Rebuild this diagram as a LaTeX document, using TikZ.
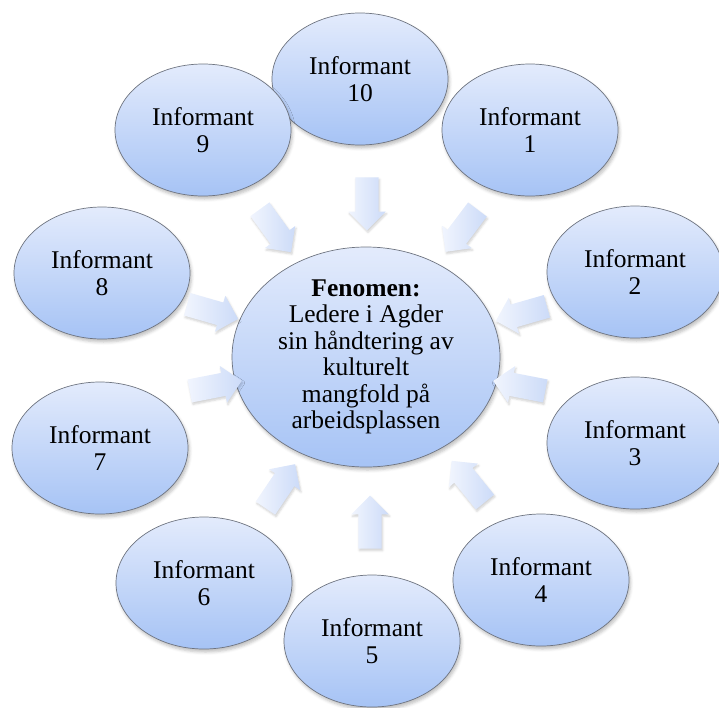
\documentclass[tikz,border=0pt]{standalone}
\usepackage{fontspec}
\setmainfont{Liberation Serif}
\usetikzlibrary{shapes.geometric,shapes.arrows,shadows.blur}

\definecolor{ovaltop}{HTML}{E3EBFC}
\definecolor{ovalbottom}{HTML}{A6C3F5}
\definecolor{ovalline}{HTML}{6E7480}
\definecolor{arrowtail}{HTML}{F1F5FE}
\definecolor{arrowtip}{HTML}{CCDBF8}

\tikzset{
  oval/.style={ellipse, draw=ovalline, line width=0.7pt,
    top color=ovaltop, bottom color=ovalbottom,
    inner sep=0pt, align=center,
    font=\fontsize{25.5}{26.5}\selectfont,
    blur shadow={shadow xshift=1.5pt, shadow yshift=-3pt,
      shadow blur radius=3pt, shadow opacity=25}},
  informant/.style={oval, minimum width=176pt, minimum height=132pt},
  phenomenon/.style={oval, minimum width=268pt, minimum height=220pt},
  inflow/.style={single arrow, draw=none, minimum height=53pt,
    inner xsep=0pt, inner ysep=11.5pt, single arrow head extend=7pt,
    left color=arrowtail, right color=arrowtip,
    blur shadow={shadow xshift=1pt, shadow yshift=-2pt,
      shadow blur radius=2pt, shadow opacity=18}}
}

\begin{document}
\begin{tikzpicture}[x=1pt, y=-1pt]
  \useasboundingbox (0,0) rectangle (719,707);

  % centre theme
  \node[phenomenon] (c) at (366,357)
    {\textbf{Fenomen:}\\Ledere i Agder\\sin håndtering av\\kulturelt\\mangfold på\\arbeidsplassen};

  % informants around the centre
  \node[informant] (i10) at (360,79)  {Informant\\10};
  \node[informant] (i1)  at (530,130) {Informant\\1};
  \node[informant] (i2)  at (635,272) {Informant\\2};
  \node[informant] (i3)  at (635,443) {Informant\\3};
  \node[informant] (i4)  at (541,580) {Informant\\4};
  \node[informant] (i5)  at (372,641) {Informant\\5};
  \node[informant] (i6)  at (204,583) {Informant\\6};
  \node[informant] (i7)  at (100,448) {Informant\\7};
  \node[informant] (i8)  at (102,273) {Informant\\8};
  \node[informant] (i9)  at (203,130) {Informant\\9};

  % block arrows pointing inwards
  \node[inflow, rotate=-90]  (a10) at (367,198) {};
  \node[inflow, rotate=-127] (a1)  at (465,226) {};
  \node[inflow, rotate=-164] (a2)  at (527,312) {};
  \node[inflow, rotate=169]  (a3)  at (525,387) {};
  \node[inflow, rotate=129]  (a4)  at (472,486) {};
  \node[inflow, rotate=90]   (a5)  at (370,528) {};
  \node[inflow, rotate=56]   (a6)  at (277,491) {};
  \node[inflow, rotate=11]   (a7)  at (210,387) {};
  \node[inflow, rotate=-16]  (a8)  at (207,310) {};
  \node[inflow, rotate=-54]  (a9)  at (272,226) {};
\end{tikzpicture}
\end{document}
